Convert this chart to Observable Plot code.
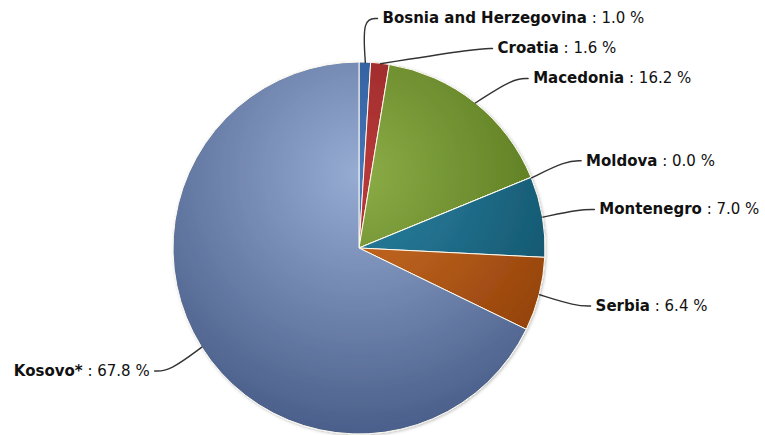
<!DOCTYPE html>
<html><head><meta charset="utf-8">
<script src="https://cdn.jsdelivr.net/npm/d3@7"></script>
<script src="https://cdn.jsdelivr.net/npm/@observablehq/plot@0.6"></script>
<style>body{margin:0;background:#fff} svg{display:block}</style>
</head><body><div id="chart"></div>
<script>
const categories = ["Bosnia and Herzegovina", "Croatia", "Macedonia", "Moldova", "Montenegro", "Serbia", "Kosovo*"];
const shares = [1.0, 1.6, 16.2, 0.0, 7.0, 6.4, 67.8];
const lightColors = ["#4475b8", "#b83a3a", "#8bac46", "#6f8fb0", "#2c85a4", "#d0722a", "#97acd3"];
const darkColors  = ["#1f4a85", "#851c1c", "#4d6c16", "#3a5a80", "#0f4c64", "#8c3c06", "#4a5f8a"];

const W = 765, H = 435, CX = 359, CY = 248, R = 186;
const rows = categories.map((c, i) => ({name: c, share: shares[i], light: lightColors[i], dark: darkColors[i], i}));
const arcs = d3.pie().sort(null).value(d => d.share)(rows);
arcs.forEach(a => { a.mid = (a.startAngle + a.endAngle) / 2; a.right = a.mid < Math.PI; });

// label layout (data units: pie radius = 1)
const dist = 45 / R, gap = 30 / R, rx = 243 / R, pad = 23 / R, clampR = 216 / R;
const minPos = -(CY - 18) / R, maxPos = (H - 18 - CY) / R;
function dodge(items) {
  items.sort((a, b) => a.want - b.want);
  let clusters = items.map(it => ({items: [it], sum: it.want}));
  const start = c => {
    const n = c.items.length;
    let s = c.sum / n - (n - 1) / 2 * gap;
    s = Math.max(minPos, Math.min(maxPos - (n - 1) * gap, s));
    return s;
  };
  let merged = true;
  while (merged) {
    merged = false;
    for (let k = 1; k < clusters.length; k++) {
      const p = clusters[k - 1], c = clusters[k];
      if (start(p) + p.items.length * gap > start(c) + 1e-9) {
        clusters.splice(k - 1, 2, {items: p.items.concat(c.items), sum: p.sum + c.sum});
        merged = true; break;
      }
    }
  }
  clusters.forEach(c => { const s = start(c); c.items.forEach((it, j) => it.pos = s + j * gap); });
}
const labels = arcs.map(a => ({name: a.data.name, share: a.data.share, mid: a.mid, right: a.right,
  want: -Math.cos(a.mid) * (1 + dist)}));
dodge(labels.filter(d => d.right));
dodge(labels.filter(d => !d.right));
labels.forEach(d => {
  const s = d.right ? 1 : -1;
  const dy = d.pos;
  d.ly = -dy;
  d.lx = Math.abs(dy) > clampR ? s * pad : s * Math.sqrt(Math.max(0, rx * rx - dy * dy));
  d.text = d.name + " : " + d.share.toFixed(1) + " %";
});
const leaders = [];
labels.forEach(d => {
  const s = d.right ? 1 : -1;
  leaders.push({name: d.name, x: Math.sin(d.mid), y: Math.cos(d.mid)});
  leaders.push({name: d.name, x: d.lx - s * 20 / R, y: d.ly});
  leaders.push({name: d.name, x: d.lx - s * 5 / R, y: d.ly});
});

function pieMark(index, scales) {
  const {x, y} = scales;
  const cx = x(0), cy = y(0), r = x(1) - x(0);
  const g = d3.create("svg:g");
  const defs = g.append("defs");
  const f = defs.append("filter").attr("id", "pieShadow").attr("x", "-10%").attr("y", "-10%").attr("width", "120%").attr("height", "120%");
  f.append("feDropShadow").attr("dx", 1).attr("dy", 1).attr("stdDeviation", 1.5).attr("flood-color", "#000").attr("flood-opacity", 0.25);
  arcs.forEach((a, i) => {
    const rg = defs.append("radialGradient").attr("id", "pg" + i).attr("gradientUnits", "userSpaceOnUse")
      .attr("cx", 0).attr("cy", -0.4 * r).attr("r", 1.4 * r);
    rg.append("stop").attr("offset", 0).attr("stop-color", a.data.light);
    rg.append("stop").attr("offset", 1).attr("stop-color", a.data.dark);
  });
  const arc = d3.arc().innerRadius(0).outerRadius(r);
  g.append("g").attr("transform", `translate(${cx},${cy})`).attr("filter", "url(#pieShadow)")
    .selectAll("path").data(arcs).join("path")
    .attr("d", arc)
    .attr("fill", (a, i) => `url(#pg${i})`)
    .attr("stroke", "#fffbf0").attr("stroke-width", 1).attr("stroke-linejoin", "round");
  return g.node();
}

const chart = Plot.plot({
  width: W, height: H,
  marginLeft: 0, marginRight: 0, marginTop: 0, marginBottom: 0,
  x: {domain: [-CX / R, (W - CX) / R], axis: null},
  y: {domain: [-(H - CY) / R, CY / R], axis: null},
  style: {fontFamily: "DejaVu Sans", fontSize: "15px", background: "#fff"},
  marks: [
    pieMark,
    Plot.line(leaders, {x: "x", y: "y", z: "name", curve: "basis", stroke: "#333", strokeWidth: 1.4}),
    Plot.text(labels.filter(d => d.right), {x: "lx", y: "ly", text: "text", textAnchor: "start", fill: "#111", fontSize: 15}),
    Plot.text(labels.filter(d => !d.right), {x: "lx", y: "ly", text: "text", textAnchor: "end", fill: "#111", fontSize: 15})
  ]
});
chart.querySelectorAll('g[aria-label="text"] text').forEach(t => {
  const s = t.textContent;
  const k = s.indexOf(" : ");
  if (k < 0) return;
  t.textContent = "";
  const ns = "http://www.w3.org/2000/svg";
  const a = document.createElementNS(ns, "tspan"); a.setAttribute("font-weight", "bold"); a.textContent = s.slice(0, k);
  const b = document.createElementNS(ns, "tspan"); b.textContent = s.slice(k);
  t.appendChild(a); t.appendChild(b);
});
document.getElementById("chart").appendChild(chart);
</script>
</body></html>
